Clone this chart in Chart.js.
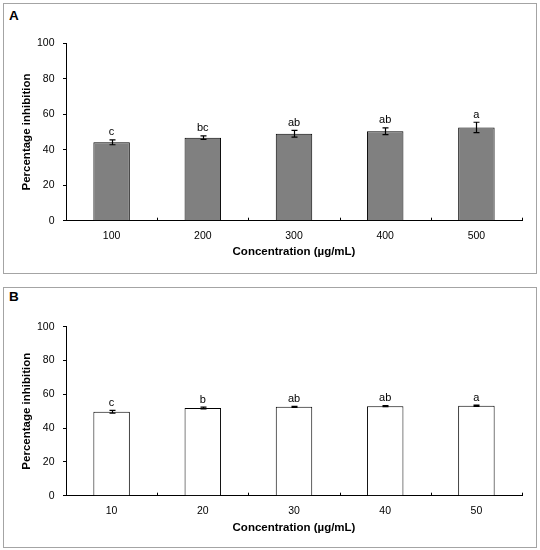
<!DOCTYPE html>
<html>
<head>
<meta charset="utf-8">
<script src="https://cdn.jsdelivr.net/npm/chart.js@4.4.1/dist/chart.umd.min.js"></script>
<style>
  body { margin: 0; background: #fff; width: 540px; height: 550px; position: relative; overflow: hidden; }
  .frame { position: absolute; border: 1px solid #a4a4a4; box-sizing: border-box; }
  .box { position: absolute; }
  .tag { position: absolute; font: bold 13.5px 'Liberation Sans', Arial, sans-serif; color: #000; }
</style>
</head>
<body>
<div class="frame" style="left:3px;top:3px;width:534px;height:271px;"></div>
<div class="frame" style="left:3px;top:287px;width:534px;height:261px;"></div>
<div class="tag" style="left:9px;top:8px;">A</div>
<div class="tag" style="left:9px;top:289px;">B</div>
<div class="box" style="left:0;top:0;width:540px;height:272px;"><canvas id="chartA"></canvas></div>
<div class="box" style="left:0;top:284px;width:540px;height:266px;"><canvas id="chartB"></canvas></div>
<script>
// Panel A
const concA = ['100', '200', '300', '400', '500'];
const inhibA = [44.2, 46.8, 49.0, 50.4, 52.6];
const errA = [1.4, 1.0, 1.9, 1.9, 2.9];
const lettersA = ['c', 'bc', 'ab', 'ab', 'a'];

// Panel B
const concB = ['10', '20', '30', '40', '50'];
const inhibB = [49.7, 51.9, 52.6, 53.0, 53.2];
const errB = [0.8, 0.5, 0.3, 0.3, 0.4];
const lettersB = ['c', 'b', 'ab', 'ab', 'a'];

const yTicks = [0, 20, 40, 60, 80, 100];
const xTitle = 'Concentration (µg/mL)';
const yTitle = 'Percentage inhibition';

const FONT = "'Liberation Sans', Arial, sans-serif";

// error bars + letters, drawn from the scales
const errorBars = {
    id: 'errorBars',
    afterDatasetsDraw(chart, args, opts) {
        const ctx = chart.ctx;
        const y = chart.scales.y;
        const meta = chart.getDatasetMeta(0);
        const vals = chart.data.datasets[0].data;
        ctx.save();
        ctx.strokeStyle = '#000';
        ctx.lineWidth = 1.2;
        meta.data.forEach((bar, i) => {
            const x = Math.round(bar.x) + 0.5;
            const top = y.getPixelForValue(vals[i] + opts.err[i]);
            const bot = y.getPixelForValue(vals[i] - opts.err[i]);
            ctx.beginPath();
            ctx.moveTo(x, top); ctx.lineTo(x, bot);
            ctx.moveTo(x - 3, top); ctx.lineTo(x + 3, top);
            ctx.moveTo(x - 3, bot); ctx.lineTo(x + 3, bot);
            ctx.stroke();
            ctx.fillStyle = '#000';
            ctx.font = '11px ' + FONT;
            ctx.textAlign = 'center';
            ctx.textBaseline = 'bottom';
            ctx.fillText(opts.letters[i], bar.x, top - 2);
        });
        ctx.restore();
    }
};

// small upward ticks between categories on the x axis
const catTicks = {
    id: 'catTicks',
    afterDraw(chart) {
        const ctx = chart.ctx;
        const x = chart.scales.x;
        const n = chart.data.labels.length;
        const w = (x.right - x.left) / n;
        const base = chart.chartArea.bottom;
        ctx.save();
        ctx.strokeStyle = '#000';
        ctx.lineWidth = 1;
        for (let k = 1; k <= n; k++) {
            const px = Math.round(x.left + k * w) + 0.5;
            ctx.beginPath();
            ctx.moveTo(px, base);
            ctx.lineTo(px, base - 3);
            ctx.stroke();
        }
        ctx.restore();
    }
};

function makeChart(id, labels, values, err, letters, fill, padTop, xHeight, xTitlePad) {
    return new Chart(document.getElementById(id), {
        type: 'bar',
        data: {
            labels: labels,
            datasets: [{
                data: values,
                backgroundColor: fill,
                borderColor: '#000',
                borderWidth: 1,
                borderSkipped: 'bottom',
                categoryPercentage: 1,
                barPercentage: 0.4
            }]
        },
        options: {
            responsive: true,
            maintainAspectRatio: false,
            animation: false,
            layout: { padding: { left: 0, right: 18, top: padTop, bottom: 0 } },
            plugins: {
                legend: { display: false },
                tooltip: { enabled: false },
                errorBars: { err: err, letters: letters }
            },
            scales: {
                x: {
                    grid: { display: false, drawTicks: false },
                    border: { display: true, color: '#000', width: 1 },
                    ticks: { color: '#000', font: { family: FONT, size: 10.5 }, padding: 9.5, maxRotation: 0 },
                    title: { display: true, text: xTitle, color: '#000', font: { family: FONT, size: 11.5, weight: 'bold' }, padding: { top: 0, bottom: xTitlePad } },
                    afterFit: s => { s.height = xHeight; }
                },
                y: {
                    min: 0,
                    max: 100,
                    afterBuildTicks: s => { s.ticks = yTicks.map(v => ({ value: v })); },
                    grid: { display: true, drawOnChartArea: false, drawTicks: true, tickLength: 3, color: '#000' },
                    border: { display: true, color: '#000', width: 1 },
                    ticks: { color: '#000', font: { family: FONT, size: 10.5 }, padding: 8.5 },
                    title: { display: true, text: yTitle, color: '#000', font: { family: FONT, size: 11.5, weight: 'bold' }, padding: { top: 19.5, bottom: 0 } },
                    afterFit: s => { s.width = 66; }
                }
            }
        },
        plugins: [errorBars, catTicks]
    });
}

makeChart('chartA', concA, inhibA, errA, lettersA, '#808080', 43.3, 51.3, 12.8);
makeChart('chartB', concB, inhibB, errB, lettersB, '#ffffff', 42.7, 54.3, 15.3);
</script>
</body>
</html>
